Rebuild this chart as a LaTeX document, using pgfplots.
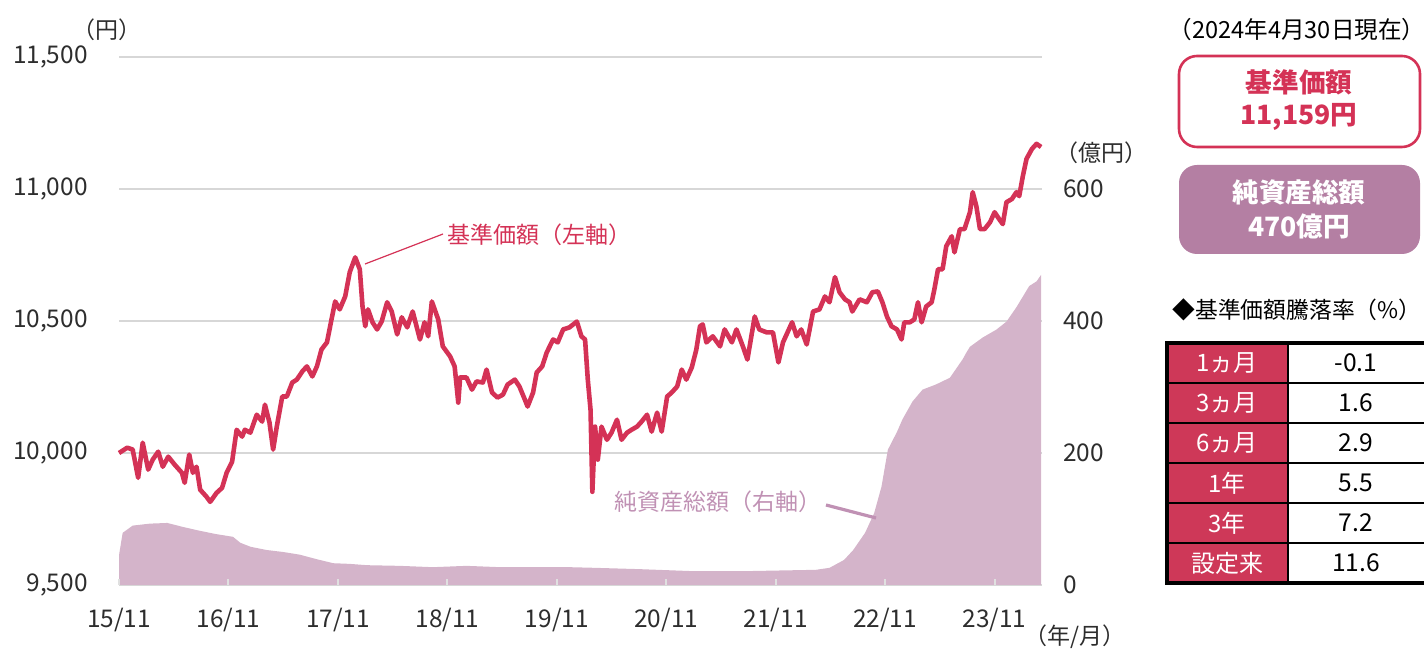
\documentclass[border=0pt]{standalone}
\usepackage{fontspec}
\setmainfont{Noto Sans CJK JP}
\usepackage{pgfplots}
\usepackage{pgfplotstable}
\pgfplotsset{compat=1.18}
\definecolor{priceRed}{RGB}{212,50,86}
\definecolor{areaFill}{RGB}{212,180,202}
\definecolor{areaText}{RGB}{192,145,180}
\definecolor{boxMauve}{RGB}{180,127,163}
\definecolor{tabRed}{RGB}{206,56,88}
\definecolor{gridGray}{RGB}{215,215,215}
\definecolor{txt}{RGB}{45,45,45}

\pgfplotstableread{
m v
0.0 10000
0.9 10020
1.5 10013
2.1 9906
2.6 10039
3.2 9937
3.7 9975
4.3 10005
4.8 9948
5.4 9986
6.1 9956
6.9 9925
7.2 9887
7.7 9994
8.1 9925
8.5 9948
8.9 9861
9.6 9834
10.0 9815
10.7 9849
11.3 9868
11.8 9925
12.4 9967
12.9 10088
13.5 10062
13.8 10088
14.4 10077
15.1 10145
15.7 10119
16.0 10183
16.5 10115
16.9 10013
17.3 10100
17.9 10214
18.4 10214
19.0 10267
19.5 10278
20.1 10309
20.6 10328
21.2 10290
21.7 10328
22.2 10392
22.8 10419
23.3 10506
23.7 10574
24.2 10544
24.8 10593
25.3 10685
25.9 10741
26.4 10696
26.7 10555
27.0 10480
27.3 10544
27.8 10495
28.3 10468
28.8 10498
29.4 10571
29.9 10536
30.5 10449
31.0 10514
31.6 10476
32.2 10536
33.0 10430
33.5 10495
33.9 10442
34.3 10574
35.0 10506
35.5 10404
36.3 10366
36.8 10328
37.2 10191
37.4 10286
38.1 10286
38.7 10240
39.2 10271
39.9 10267
40.3 10316
40.9 10229
41.5 10210
42.1 10221
42.6 10259
43.4 10278
43.9 10252
44.5 10202
44.8 10176
45.4 10229
45.8 10305
46.4 10328
46.9 10381
47.6 10430
48.1 10419
48.7 10468
49.4 10476
50.2 10498
50.7 10442
51.1 10430
51.4 10278
51.7 10164
51.9 9853
52.2 10100
52.5 9975
52.9 10100
53.5 10050
54.0 10077
54.6 10126
55.1 10050
55.7 10077
56.2 10088
56.8 10100
57.3 10119
57.9 10145
58.4 10081
59.0 10153
59.5 10081
60.1 10214
60.6 10229
61.2 10252
61.7 10316
62.2 10278
62.8 10324
63.3 10392
63.7 10480
64.0 10487
64.4 10419
65.1 10442
65.9 10404
66.4 10468
67.2 10419
67.7 10468
68.4 10404
68.9 10354
69.7 10517
70.2 10468
71.0 10457
71.7 10457
72.3 10343
72.8 10419
73.8 10495
74.3 10442
74.8 10468
75.4 10411
76.1 10536
76.8 10544
77.4 10593
77.9 10571
78.5 10666
79.0 10609
79.6 10582
80.1 10571
80.4 10536
81.2 10582
82.0 10571
82.6 10609
83.2 10612
83.7 10571
84.2 10517
84.7 10480
85.3 10468
85.8 10430
86.1 10495
86.7 10495
87.2 10506
87.6 10571
88.0 10495
88.5 10555
89.1 10571
89.4 10620
89.8 10696
90.3 10696
90.7 10783
91.3 10821
91.6 10760
92.2 10848
92.7 10848
93.3 10912
93.6 10988
94.0 10935
94.4 10848
94.9 10848
95.5 10874
96.0 10912
96.5 10886
96.9 10867
97.3 10950
97.9 10962
98.4 10988
98.7 10973
99.1 11049
99.5 11114
100.1 11152
100.6 11171
101.1 11159
}\pricetable

\pgfplotstableread{
m v
0.0 45
0.4 79
1.5 90
3.4 93
5.3 94
7.0 88
8.9 82
10.7 77
12.5 73
13.3 64
14.4 58
16.2 53
18.0 50
19.8 46
21.7 39
23.5 33
25.3 32
27.2 30
30.8 29
34.4 27
38.1 29
41.8 27
49.4 27
52.2 26
57.1 24
62.9 21
68.7 21
76.4 23
77.9 26
79.5 38
80.5 53
81.8 79
82.8 109
83.6 149
84.3 205
85.3 232
85.9 251
87.0 278
88.1 296
89.6 304
91.1 314
92.5 342
92.9 352
93.3 361
94.7 375
96.2 387
97.3 399
98.4 421
99.8 453
100.6 460
101.1 470
}\assettable

\begin{document}
\begin{tikzpicture}
\useasboundingbox (0,0) rectangle (712pt,326pt);
\clip (0,0) rectangle (712pt,326pt);

% right axis: net assets (behind)
\begin{axis}[
  at={(59.5pt,33.5pt)}, anchor=south west,
  width=461.5pt, height=264pt, scale only axis,
  xmin=0, xmax=101.2, ymin=0, ymax=800,
  axis line style={draw=none},
  xtick=\empty,
  ytick={0,200,400,600,800},
  yticklabels={0,200,400,600,{}},
  yticklabel pos=right,
  ytick style={draw=none},
  ymajorgrids, grid style={color=gridGray, line width=0.9pt},
  yticklabel style={font=\fontsize{12.2}{14}\selectfont, text=txt, anchor=west, inner sep=0pt, xshift=10.5pt},
  clip=false,
]
\addplot[fill=areaFill, draw=none] table[x=m, y=v] {\assettable} \closedcycle;
\end{axis}

% left axis: NAV
\begin{axis}[
  at={(59.5pt,33.5pt)}, anchor=south west,
  width=461.5pt, height=264pt, scale only axis,
  xmin=0, xmax=101.2, ymin=9500, ymax=11500,
  axis line style={draw=none},
  xtick={0,12,24,36,48,60,72,84,96},
  xticklabels={15/11,16/11,17/11,18/11,19/11,20/11,21/11,22/11,23/11},
  xtick pos=lower, tick align=inside,
  xtick style={draw=white!88!black, line width=1pt},
  major tick length=3pt,
  ytick={9500,10000,10500,11000,11500},
  scaled y ticks=false,
  ytick pos=left,
  ytick style={draw=none},
  /pgf/number format/.cd, 1000 sep={,}, assume math mode=true,
  /pgfplots/.cd,
  yticklabel style={font=\fontsize{12.2}{14}\selectfont, text=txt, anchor=east, inner sep=0pt, xshift=-15.5pt},
  xticklabel style={font=\fontsize{12.2}{14}\selectfont, text=txt, anchor=north, inner sep=0pt, yshift=-11.5pt},
  clip=false,
]
\addplot[priceRed, line width=2.3pt, line join=round] table[x=m, y=v] {\pricetable};
\end{axis}

\begin{scope}[x=0.5pt, y=-0.5pt, shift={(0pt,326pt)}]
  \tikzset{every node/.style={inner sep=0pt, font=\fontsize{11.5}{13}\selectfont}}
  \node[text=txt] at (107,30) {（円）};
  \node[text=txt] at (1101,153) {（億円）};
  \node[text=txt] at (1075,637) {（年/月）};
  % annotations
  \draw[priceRed, line width=0.6pt] (365,264) -- (443,234);
  \node[text=priceRed, anchor=west] at (447,235) {基準価額（左軸）};
  \draw[areaText, line width=1.6pt] (826,505) -- (876,518);
  \node[text=areaText, anchor=east] at (822,502) {純資産総額（右軸）};
  % right panel
  \node[text=black, font=\fontsize{11.8}{13}\selectfont] at (1297,30) {（2024年4月30日現在）};
  \draw[priceRed, line width=1.3pt, rounded corners=9pt, fill=white] (1179,56) rectangle (1420,147);
  \node[text=priceRed, font=\fontsize{13.3}{15}\bfseries] at (1299,82) {基準価額};
  \node[text=priceRed, font=\fontsize{13.3}{15}\bfseries] at (1299,117) {11,159円};
  \fill[boxMauve, rounded corners=9pt] (1179,165) rectangle (1420,254);
  \node[text=white, font=\fontsize{13.3}{15}\bfseries] at (1299,192) {純資産総額};
  \node[text=white, font=\fontsize{13.3}{15}\bfseries] at (1299,226) {470億円};
  \node[text=black, anchor=west, font=\fontsize{11.4}{14}\selectfont] at (1172,310) {◆基準価額騰落率（\%）};
  % table
  \fill[tabRed] (1167,343) rectangle (1288,583);
  \fill[white] (1288,343) rectangle (1430,583);
  \foreach \yy in {383,423,463,503,543} {
    \draw[black, line width=1.4pt] (1167,\yy) -- (1430,\yy);
  }
  \draw[black, line width=1.4pt] (1288,343) -- (1288,583);
  \draw[black, line width=2pt] (1167,343) rectangle (1430,583);
  \foreach \lab/\val [count=\i] in {1ヵ月/-0.1, 3ヵ月/1.6, 6ヵ月/2.9, 1年/5.5, 3年/7.2, 設定来/11.6} {
    \node[text=white, font=\fontsize{12}{14}\selectfont] at (1227,{343+40*\i-20}) {\lab};
    \node[text=black, font=\fontsize{12.3}{14}\selectfont] at (1356,{343+40*\i-20}) {\val};
  }
\end{scope}
\end{tikzpicture}
\end{document}
